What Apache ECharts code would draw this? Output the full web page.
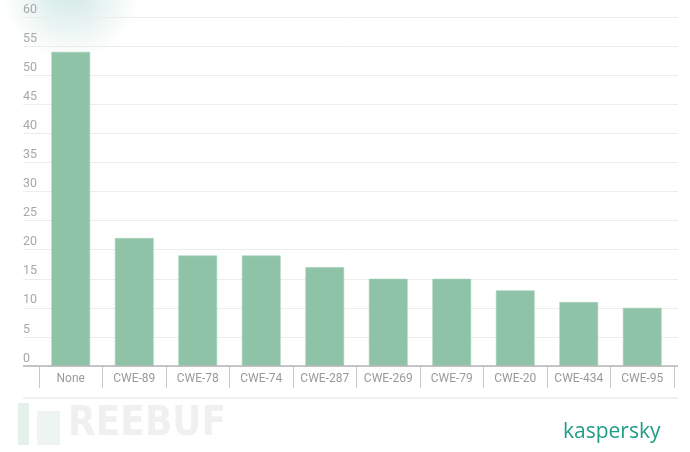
<!DOCTYPE html>
<html><head><meta charset="utf-8">
<script src="https://cdn.jsdelivr.net/npm/echarts@6/dist/echarts.min.js"></script>
<style>html,body{margin:0;padding:0;background:#fff}#c{width:690px;height:452px}</style>
</head><body><div id="c"></div>
<script>
const categories = ['None','CWE-89','CWE-78','CWE-74','CWE-287','CWE-269','CWE-79','CWE-20','CWE-434','CWE-95'];
const values = [54, 22, 19, 19, 17, 15, 15, 13, 11, 10];
const yTicks = {min: 0, max: 60, interval: 5};

const chart = echarts.init(document.getElementById('c'), null, {renderer: 'canvas'});
const font = 'Roboto, "Noto Sans", sans-serif';
chart.setOption({
  animation: false,
  grid: [
    {left: 23, right: 12, top: 17, bottom: 86},
    {left: 39, right: 16, top: 17, bottom: 86}
  ],
  xAxis: [
    {gridIndex: 0, type: 'category', data: categories, show: false},
    {gridIndex: 1, type: 'category', data: categories,
      axisLine: {show: false},
      axisTick: {show: true, length: 22, lineStyle: {color: '#c8c8c8', width: 1}},
      axisLabel: {color: '#9a9a9a', fontSize: 12, fontFamily: font, margin: 7, interval: 0},
      splitLine: {show: false}}
  ],
  yAxis: [
    {gridIndex: 0, type: 'value', min: yTicks.min, max: yTicks.max, interval: yTicks.interval,
      axisLine: {show: false}, axisTick: {show: false},
      axisLabel: {inside: true, margin: 0, color: '#a8a8a8', fontSize: 12.5, fontFamily: font,
        verticalAlign: 'bottom', align: 'left', padding: [0, 0, 1, 0]},
      splitLine: {lineStyle: {color: '#ececec', width: 1}}},
    {gridIndex: 1, type: 'value', min: yTicks.min, max: yTicks.max, interval: yTicks.interval, show: false}
  ],
  series: [
    {type: 'bar', xAxisIndex: 0, yAxisIndex: 0, data: [], silent: true,
      markLine: {silent: true, symbol: 'none', label: {show: false},
        lineStyle: {color: '#b5b5b5', width: 1.5, type: 'solid'}, data: [{yAxis: 0}]}},
    {type: 'bar', xAxisIndex: 1, yAxisIndex: 1, data: values, barWidth: '61%',
      itemStyle: {color: '#8ec3a7', borderColor: '#a6d0ba', borderWidth: 0.6}}
  ],
  graphic: [
    {type: 'circle', shape: {cx: 70, cy: -10, r: 70}, z: -10,
      style: {fill: new echarts.graphic.RadialGradient(0.5, 0.5, 0.5, [
        {offset: 0, color: 'rgba(120,190,175,0.35)'}, {offset: 1, color: 'rgba(120,190,175,0)'}])}},
    {type: 'line', shape: {x1: 23, y1: 398, x2: 678, y2: 398}, style: {stroke: '#e2e2e2', lineWidth: 1}},
    {type: 'rect', shape: {x: 18, y: 403, width: 11, height: 42}, style: {fill: '#e6f0eb'}},
    {type: 'rect', shape: {x: 37, y: 411, width: 23, height: 34}, style: {fill: '#eef4f1'}},
    {type: 'text', left: 68, top: 405, style: {text: 'REEBUF', fill: '#f0f0f0', font: 'bold 40px "DejaVu Sans Condensed", "Liberation Sans Narrow", sans-serif'}},
    {type: 'text', left: 563, top: 422, style: {text: 'kaspersky', fill: '#1f9d87', font: '21px "Open Sans", Lato, sans-serif'}}
  ]
});
</script></body></html>
